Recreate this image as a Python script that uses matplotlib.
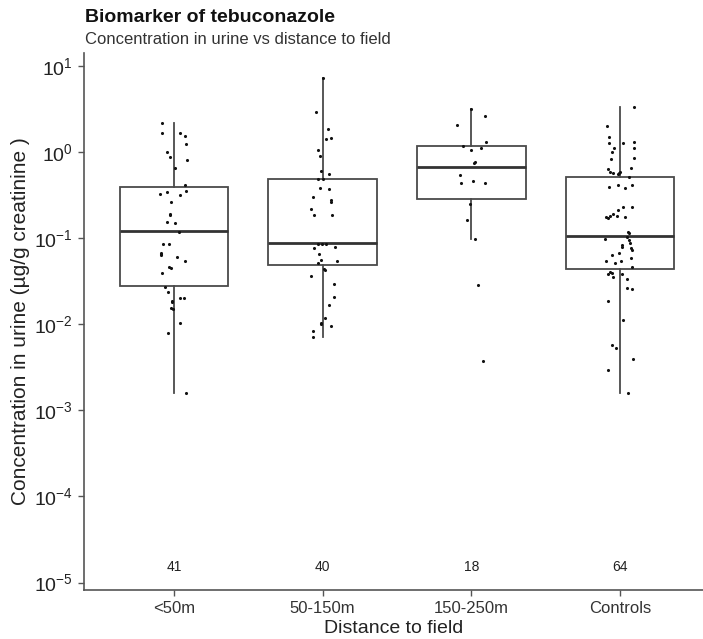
import matplotlib
matplotlib.use("Agg")
import matplotlib.pyplot as plt
import numpy as np

plt.rcParams['font.family'] = ['Liberation Sans', 'DejaVu Sans']
plt.rcParams['mathtext.fontset'] = 'custom'
plt.rcParams['mathtext.rm'] = 'Liberation Sans'
plt.rcParams['mathtext.it'] = 'Liberation Sans:italic'
plt.rcParams['mathtext.bf'] = 'Liberation Sans:bold'

categories = ["<50m", "50-150m", "150-250m", "Controls"]
counts = [41, 40, 18, 64]

# box statistics (µg/g creatinine)
q1 = [0.0279, 0.0492, 0.288, 0.0439]
median = [0.122, 0.088, 0.666, 0.107]
q3 = [0.39, 0.487, 1.18, 0.518]
whisker_lo = [0.00161, 0.00718, 0.098, 0.00158]
whisker_hi = [2.20, 7.19, 3.17, 3.37]

# individual observations (value, horizontal jitter in category units)
obs_lt50 = [2.20, 1.65, 1.68, 1.54, 1.23, 0.99, 0.885, 0.82, 0.65, 0.42, 0.356,
            0.33, 0.344, 0.32, 0.261, 0.191, 0.184, 0.154, 0.151, 0.119, 0.0857,
            0.0857, 0.068, 0.0633, 0.0655, 0.0605, 0.0543, 0.0463, 0.0447, 0.0398,
            0.0274, 0.0237, 0.0204, 0.0204, 0.0188, 0.0183, 0.0153, 0.0151, 0.0103,
            0.00785, 0.00161]
jit_lt50 = [-0.078, -0.083, 0.040, 0.074, 0.078, -0.049, -0.029, 0.089, 0.009, 0.076,
            0.081, -0.092, -0.049, 0.040, -0.022, -0.029, -0.029, -0.049, 0.009, 0.036,
            -0.072, -0.036, -0.087, -0.087, -0.087, 0.020, 0.076, -0.036, -0.018, -0.081,
            -0.060, -0.043, 0.040, 0.069, -0.016, -0.013, -0.020, -0.004, 0.040, -0.043,
            0.081]

obs_50_150 = [7.19, 2.90, 1.85, 1.42, 1.47, 1.06, 0.90, 0.598, 0.562, 0.483, 0.483,
              0.383, 0.373, 0.303, 0.278, 0.266, 0.218, 0.186, 0.186, 0.0857, 0.0857,
              0.0857, 0.0776, 0.0798, 0.0655, 0.0558, 0.0511, 0.0543, 0.0439, 0.0428,
              0.0367, 0.0291, 0.0209, 0.0169, 0.0119, 0.0104, 0.0100, 0.00946, 0.00843,
              0.00718]
jit_50_150 = [0.0, -0.047, 0.034, 0.025, 0.054, -0.034, -0.018, -0.009, 0.040, -0.029,
              0.0, -0.018, 0.045, -0.067, 0.054, 0.054, -0.081, -0.058, 0.065, -0.029,
              -0.007, 0.020, -0.058, 0.085, -0.022, -0.009, -0.029, 0.094, 0.007, 0.016,
              -0.081, 0.078, 0.078, 0.040, 0.016, -0.009, -0.013, 0.054, -0.067, -0.067]

obs_150_250 = [3.17, 2.65, 2.05, 1.30, 1.19, 1.12, 1.06, 0.754, 0.767, 0.542, 0.434,
               0.457, 0.434, 0.247, 0.163, 0.098, 0.0284, 0.00375]
jit_150_250 = [0.0, 0.089, -0.096, 0.098, -0.056, 0.067, 0.0, 0.018, 0.022, -0.078,
               -0.072, 0.011, 0.089, -0.007, -0.029, 0.027, 0.047, 0.081]

obs_controls = [3.37, 2.01, 1.48, 1.26, 1.26, 1.30, 1.11, 1.11, 0.99, 0.861,
                0.832, 0.637, 0.660, 0.593, 0.567, 0.552, 0.567, 0.509, 0.390, 0.415,
                0.379, 0.415, 0.229, 0.232, 0.213, 0.191, 0.175, 0.170, 0.181, 0.178,
                0.119, 0.114, 0.104, 0.0989, 0.0953, 0.0871, 0.0834, 0.0798, 0.0762, 0.0729,
                0.0679, 0.0638, 0.0583, 0.0543, 0.0520, 0.0543, 0.0459, 0.0402, 0.0380, 0.0391,
                0.0357, 0.0380, 0.0333, 0.0262, 0.0255, 0.0188, 0.0112, 0.00575, 0.00526, 0.00399,
                0.00294, 0.00158, 0.181, 0.593]
jit_controls = [0.096, -0.089, -0.072, -0.072, 0.022, 0.096, -0.038, 0.096, -0.056, 0.096,
                -0.060, -0.083, 0.074, -0.067, -0.045, -0.016, -0.007, 0.060, -0.072, -0.016,
                0.034, 0.078, 0.018, 0.078, -0.011, -0.045, -0.096, -0.083, -0.022, 0.034,
                0.051, 0.060, 0.045, -0.101, 0.060, 0.067, 0.011, 0.011, 0.074, 0.078,
                -0.007, -0.056, 0.074, -0.096, -0.034, 0.004, 0.078, -0.067, -0.078, -0.051,
                -0.045, 0.011, 0.045, 0.045, 0.078, -0.083, 0.018, -0.056, -0.029, 0.089,
                -0.083, 0.056, -0.067, 0.000]

observations = [obs_lt50, obs_50_150, obs_150_250, obs_controls]
jitters = [jit_lt50, jit_50_150, jit_150_250, jit_controls]

y_ticks = [1e-5, 1e-4, 1e-3, 1e-2, 1e-1, 1e0, 1e1]
y_tick_labels = [r'$\mathregular{10^{-5}}$', r'$\mathregular{10^{-4}}$', r'$\mathregular{10^{-3}}$',
                 r'$\mathregular{10^{-2}}$', r'$\mathregular{10^{-1}}$', r'$\mathregular{10^{0}}$',
                 r'$\mathregular{10^{1}}$']
count_y = 1.5e-5

W, H = 703, 639
fig = plt.figure(figsize=(W / 100, H / 100), dpi=100)
ax = fig.add_axes([84 / W, 1 - 590 / H, (W - 84) / W, (590 - 53) / H])

positions = np.arange(1, len(categories) + 1)
stats = []
for i in range(len(categories)):
    stats.append(dict(med=median[i], q1=q1[i], q3=q3[i],
                      whislo=whisker_lo[i], whishi=whisker_hi[i], fliers=[]))

line_col = '#4a4a4a'
ax.bxp(stats, positions=positions, widths=0.73, showcaps=False, showfliers=False,
       patch_artist=True,
       boxprops=dict(facecolor='white', edgecolor=line_col, linewidth=1.3),
       whiskerprops=dict(color=line_col, linewidth=1.3),
       medianprops=dict(color='#333333', linewidth=2.0))

for i, (vals, jit) in enumerate(zip(observations, jitters)):
    xs = positions[i] + np.array(jit)
    ax.scatter(xs, vals, s=5, color='#111111', zorder=5, linewidths=0)

for i, c in enumerate(counts):
    ax.text(positions[i], count_y, str(c), ha='center', va='center', fontsize=10,
            color='#222222')

ax.set_yscale('log')
ax.set_ylim(10 ** -5.086, 10 ** 1.151)
ax.set_xlim(0.395, 4.558)
ax.set_yticks(y_ticks)
ax.set_yticklabels(y_tick_labels)
ax.yaxis.set_minor_locator(matplotlib.ticker.NullLocator())
ax.set_xticks(positions)
ax.set_xticklabels(categories)

for s in ['top', 'right']:
    ax.spines[s].set_visible(False)
for s in ['left', 'bottom']:
    ax.spines[s].set_color('#555555')
    ax.spines[s].set_linewidth(1.2)
ax.tick_params(axis='both', direction='out', length=4, width=1.0, color='#555555')
ax.tick_params(axis='y', labelsize=14, labelcolor='#222222', pad=4)
ax.tick_params(axis='x', labelsize=12, labelcolor='#333333', pad=4)

ax.set_xlabel('Distance to field', fontsize=14, color='#222222', labelpad=3)
ax.set_ylabel('Concentration in urine (µg/g creatinine )', fontsize=15, color='#222222',
              labelpad=3)

fig.text(85 / W, 1 - 17 / H, 'Biomarker of tebuconazole', fontsize=14, fontweight='bold',
         ha='left', va='center', color='#111111')
fig.text(85 / W, 1 - 40 / H, 'Concentration in urine vs distance to field', fontsize=12,
         ha='left', va='center', color='#333333')

fig.savefig('out.png', dpi=100)
